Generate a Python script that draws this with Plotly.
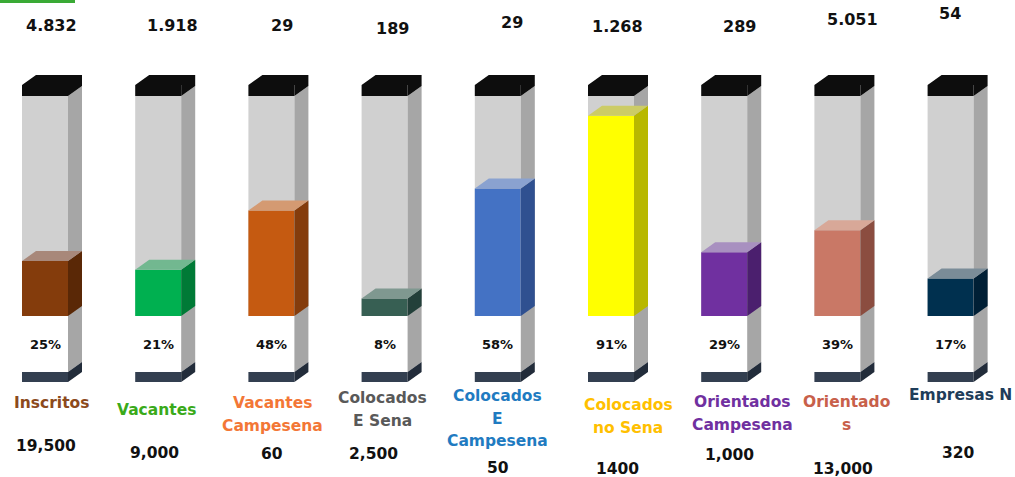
import plotly.graph_objects as go

# ---------------- data ----------------
categories = ["Inscritos", "Vacantes", "Vacantes<br>Campesena", "Colocados<br>E Sena",
              "Colocados<br>E<br>Campesena", "Colocados<br>no Sena",
              "Orientados<br>Campesena", "Orientado<br>s", "Empresas N"]
percentages = [25, 21, 48, 8, 58, 91, 29, 39, 17]
top_values = ["4.832", "1.918", "29", "189", "29", "1.268", "289", "5.051", "54"]
totals = ["19,500", "9,000", "60", "2,500", "50", "1400", "1,000", "13,000", "320"]

# ---------------- styles ----------------
fill_front = ["#843c0c", "#00b050", "#c55a11", "#375f53", "#4472c4",
              "#ffff00", "#7030a0", "#c97866", "#00304f"]
fill_side = ["#5a2806", "#007a36", "#843c0c", "#23403a", "#2f5090",
             "#b8b800", "#4b1f6e", "#8b4d40", "#001f35"]
fill_top = ["#a8887a", "#72b890", "#d49a72", "#7f9890", "#8aa2d0",
            "#cccc66", "#a890c0", "#d8a898", "#7a8c98"]
label_colors = ["#8c4a1c", "#3aaa1a", "#f37736", "#595959", "#1f7bc1",
                "#ffc000", "#7030a0", "#c8604a", "#1f3d5a"]

# label positions (pixels)
top_px_x = [51, 172, 282, 392, 512, 617, 739, 852, 950]
top_px_y = [26, 26, 26, 28, 22, 27, 27, 19, 14]
cat_px_x = [51, 156, 272, 382, 497, 628, 742, 846, 960]
cat_px_y = [403, 410, 403, 398, 396, 405, 402, 402, 395]
tot_px_x = [46, 154, 272, 373, 498, 617, 729, 843, 958]
tot_px_y = [446, 453, 454, 454, 468, 469, 455, 469, 453]

# ---------------- geometry ----------------
W, H = 1015, 477
PX_X0, PX_STEP = 45, 113.2
PX_Y0, PX_PER_UNIT = 316, 2.2
FULL = 100
BAR_W = 46 / PX_STEP
DX = 14 / PX_STEP
DY = 10 / PX_PER_UNIT
CAP = 11 / PX_PER_UNIT
WHITE = 56 / PX_PER_UNIT
BASE = 10 / PX_PER_UNIT
LINE_GAP = 22.5

GRAY_FRONT = "#d0d0d0"
GRAY_SIDE = "#a6a6a6"
CAP_COLOR = "#0d0d0d"
BASE_FRONT = "#333f50"
BASE_SIDE = "#222c3a"

n = len(categories)
xs = list(range(n))

fig = go.Figure()


def bar(base, height, color):
    fig.add_trace(go.Bar(x=xs, y=height, base=base, width=BAR_W,
                         marker=dict(color=color, line=dict(width=0)),
                         hoverinfo="skip", showlegend=False))


# front faces
bar([FULL] * n, [CAP] * n, CAP_COLOR)
bar([0] * n, [FULL] * n, GRAY_FRONT)
bar([-WHITE] * n, [WHITE] * n, "#ffffff")
bar([-WHITE - BASE] * n, [BASE] * n, BASE_FRONT)
bar([0] * n, percentages, fill_front)


def side(i, y0, y1):
    xr = i + BAR_W / 2
    return [xr, xr + DX, xr + DX, xr, xr, None], [y0, y0 + DY, y1 + DY, y1, y0, None]


def top(i, y):
    xl, xr = i - BAR_W / 2, i + BAR_W / 2
    return [xl, xl + DX, xr + DX, xr, xl, None], [y, y + DY, y + DY, y, y, None]


def poly(px, py, color):
    fig.add_trace(go.Scatter(x=px, y=py, mode="lines", fill="toself",
                             fillcolor=color, line=dict(width=0, color=color),
                             hoverinfo="skip", showlegend=False))


# gray side faces
gx, gy, cx, cy, bx, by = [], [], [], [], [], []
for i in xs:
    a, b = side(i, -WHITE, FULL)
    gx += a; gy += b
    a, b = side(i, FULL, FULL + CAP)
    cx += a; cy += b
    a, b = top(i, FULL + CAP)
    cx += a; cy += b
    a, b = side(i, -WHITE - BASE, -WHITE)
    bx += a; by += b
poly(gx, gy, GRAY_SIDE)
poly(cx, cy, CAP_COLOR)
poly(bx, by, BASE_SIDE)

# coloured side + top faces
for i in xs:
    a, b = side(i, 0, percentages[i])
    poly(a, b, fill_side[i])
    a, b = top(i, percentages[i])
    poly(a, b, fill_top[i])

# ---------------- text ----------------
FONT = "DejaVu Sans"
ann = []
for i in xs:
    ann.append(dict(x=top_px_x[i] / W, y=1 - top_px_y[i] / H, xref="paper", yref="paper",
                    text="<b>%s</b>" % top_values[i], showarrow=False,
                    font=dict(family=FONT, size=16, color="#111111"),
                    xanchor="center", yanchor="middle"))
    for k, line in enumerate(categories[i].split("<br>")):
        ann.append(dict(x=cat_px_x[i] / W, y=1 - (cat_px_y[i] + k * LINE_GAP) / H,
                        xref="paper", yref="paper",
                        text="<b>%s</b>" % line, showarrow=False,
                        font=dict(family=FONT, size=15.5, color=label_colors[i]),
                        xanchor="center", yanchor="middle"))
    ann.append(dict(x=tot_px_x[i] / W, y=1 - tot_px_y[i] / H, xref="paper", yref="paper",
                    text="<b>%s</b>" % totals[i], showarrow=False,
                    font=dict(family=FONT, size=15.5, color="#111111"),
                    xanchor="center", yanchor="middle"))
    ann.append(dict(x=i, y=-WHITE / 2, xref="x", yref="y",
                    text="<b>%d%%</b>" % percentages[i], showarrow=False,
                    font=dict(family=FONT, size=13, color="#111111"),
                    xanchor="center", yanchor="middle"))

x_lo = -PX_X0 / PX_STEP
x_hi = x_lo + W / PX_STEP
y_hi = PX_Y0 / PX_PER_UNIT
y_lo = -(H - PX_Y0) / PX_PER_UNIT

fig.update_layout(
    width=W, height=H, autosize=False,
    margin=dict(l=0, r=0, t=0, b=0, pad=0),
    paper_bgcolor="white", plot_bgcolor="white",
    barmode="overlay", showlegend=False,
    xaxis=dict(range=[x_lo, x_hi], visible=False, fixedrange=True),
    yaxis=dict(range=[y_lo, y_hi], visible=False, fixedrange=True),
    annotations=ann,
    shapes=[dict(type="rect", xref="paper", yref="paper", x0=0, x1=75 / W,
                 y0=1 - 3 / H, y1=1, fillcolor="#3aaa35", line=dict(width=0))],
)

fig.write_html("out.html", config={"displayModeBar": False},
               post_script="document.body.style.margin='0';document.body.style.overflow='hidden';")
